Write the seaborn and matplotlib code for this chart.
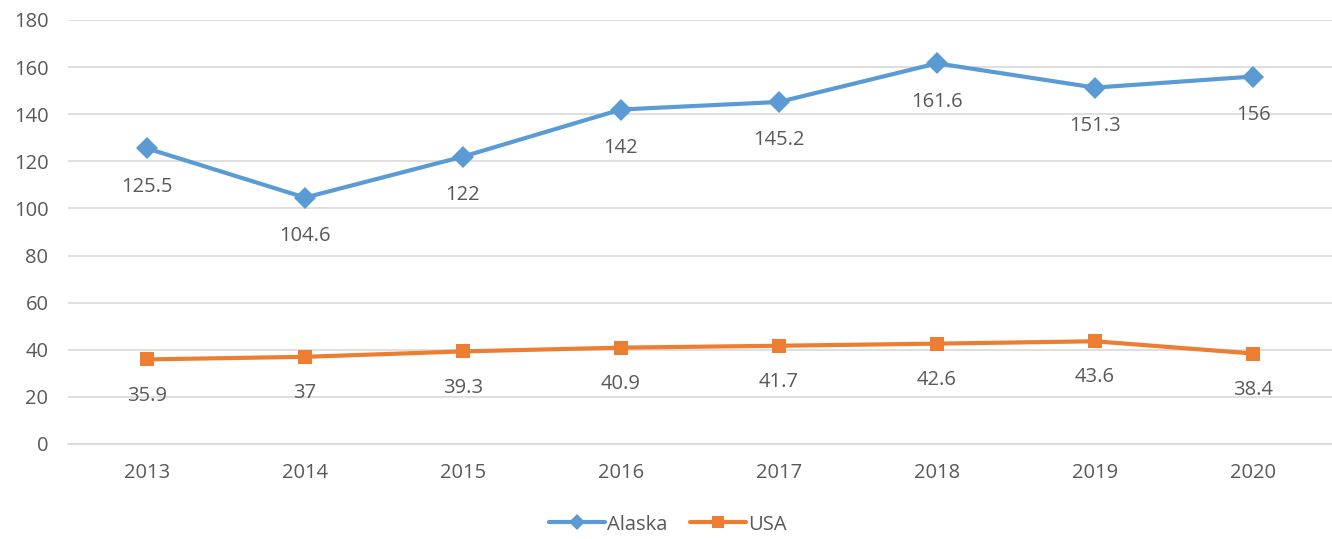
import matplotlib
matplotlib.use("Agg")
import matplotlib.pyplot as plt
import seaborn as sns
import pandas as pd

# Data
years = [2013, 2014, 2015, 2016, 2017, 2018, 2019, 2020]
alaska = [125.5, 104.6, 122, 142, 145.2, 161.6, 151.3, 156]
usa = [35.9, 37, 39.3, 40.9, 41.7, 42.6, 43.6, 38.4]

BLUE = '#5B9BD5'
ORANGE = '#ED7D31'
TEXT = '#595959'
FS = 14.5

sns.set_style('white')
plt.rcParams['font.family'] = ['Open Sans', 'DejaVu Sans']

df = pd.DataFrame({
    'year': years * 2,
    'value': alaska + usa,
    'series': ['Alaska'] * len(years) + ['USA'] * len(years),
})

fig = plt.figure(figsize=(13.32, 5.39), dpi=100)
ax = fig.add_axes([0.051, 0.1763, 0.949, 0.7866])

sns.lineplot(data=df, x='year', y='value', hue='series', style='series',
             palette={'Alaska': BLUE, 'USA': ORANGE},
             markers={'Alaska': 'D', 'USA': 's'}, dashes=False,
             linewidth=3, markersize=11, markeredgewidth=0, ax=ax, sort=False)

# square marker slightly smaller than the diamond
for line in ax.get_lines():
    if line.get_color().lower() == ORANGE.lower():
        line.set_markersize(10)

for x, y in zip(years, alaska):
    ax.annotate(f'{y:g}', (x, y), xytext=(0, -27.5), textcoords='offset points',
                ha='center', va='center', fontsize=FS, color=TEXT)
for x, y in zip(years, usa):
    ax.annotate(f'{y:g}', (x, y), xytext=(0, -26), textcoords='offset points',
                ha='center', va='center', fontsize=FS, color=TEXT)

ax.set_xlim(2012.5, 2020.5)
ax.set_ylim(0, 180)
ax.set_yticks(range(0, 181, 20))
ax.set_xticks(years)
ax.set_xticklabels([str(y) for y in years])
ax.grid(axis='y', color='#D9D9D9', linewidth=1.2)
ax.set_axisbelow(True)
for s in ['top', 'right', 'left']:
    ax.spines[s].set_visible(False)
ax.spines['bottom'].set_color('#D9D9D9')
ax.spines['bottom'].set_linewidth(1.2)
ax.tick_params(axis='both', length=0, labelsize=FS, labelcolor=TEXT)
ax.tick_params(axis='y', pad=14)
ax.tick_params(axis='x', pad=14)
ax.set_xlabel('')
ax.set_ylabel('')

handles, labels = ax.get_legend_handles_labels()
for h in handles:
    h.set_markersize(8)
ax.legend(handles, labels, loc='center', bbox_to_anchor=(0.5 - 0.051 / 2, -0.19),
          ncol=2, frameon=False, fontsize=FS, labelcolor=TEXT,
          handlelength=2.8, handletextpad=0.1, columnspacing=1.1)

fig.savefig('out.png', dpi=100)
